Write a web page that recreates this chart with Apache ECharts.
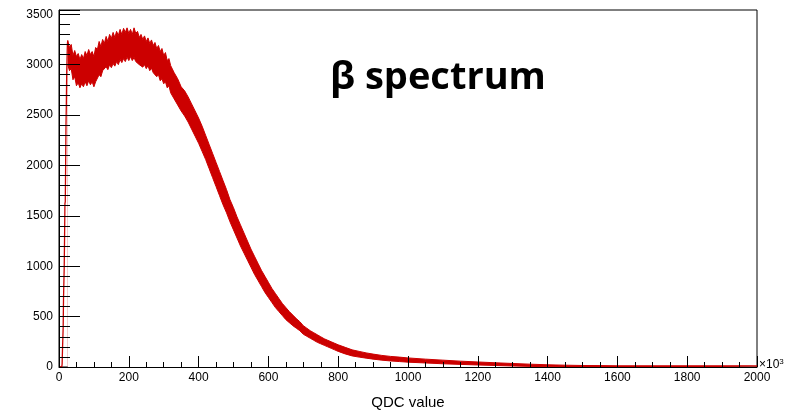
<!DOCTYPE html>
<html>
<head>
<meta charset="utf-8">
<script src="https://cdn.jsdelivr.net/npm/echarts@6/dist/echarts.min.js"></script>
<style>
  html, body { margin: 0; padding: 0; background: #fff; }
  #chart { width: 790px; height: 415px; }
</style>
</head>
<body>
<div id="chart"></div>
<script>
// ---- data (QDC value in units of 10^3, counts) ----
const riseQdc    = [0, 8, 9, 10, 11, 12, 13, 14, 15, 16, 17, 18, 19, 20, 21, 22, 23, 24, 25];
const riseCounts = [0, 0, 30, 170, 180, 400, 690, 700, 1000, 1300, 1620, 1640, 2000, 2400, 2600, 2900, 3050, 3200, 3240];

const bandQdc = [
  25, 30, 35, 40, 45, 50, 55, 60, 65, 70, 75, 80, 85, 90, 95, 100,
  105, 110, 115, 120, 125, 130, 135, 140, 145, 150, 155, 160, 165, 170, 175, 180,
  185, 190, 195, 200, 205, 210, 215, 220, 225, 230, 235, 240, 245, 250, 255, 260,
  265, 270, 275, 280, 285, 290, 295, 300, 305, 310, 315, 320, 325, 330, 335, 340,
  345, 350, 360, 370, 380, 390, 400, 410, 420, 430, 440, 450, 460, 470, 480, 490,
  500, 510, 520, 530, 540, 550, 560, 570, 580, 590, 600, 610, 620, 630, 640, 650,
  660, 670, 680, 690, 700, 710, 720, 730, 740, 750, 760, 770, 780, 790, 800, 820,
  840, 860, 880, 900, 925, 950, 975, 1000, 1050, 1100, 1150, 1200, 1250, 1300, 1350, 1400,
  1450, 1500, 1550, 1600, 1700, 1800, 1900, 2000
];
const bandUpper = [
  3240, 3170, 3200, 3090, 3140, 3080, 3110, 3050, 3100, 3060, 3130, 3090, 3150, 3100, 3130, 3080,
  3170, 3150, 3230, 3180, 3250, 3210, 3280, 3230, 3300, 3260, 3320, 3270, 3330, 3290, 3350, 3300,
  3360, 3320, 3365, 3310, 3350, 3300, 3365, 3310, 3330, 3270, 3300, 3250, 3285, 3230, 3265, 3210,
  3245, 3190, 3220, 3160, 3190, 3130, 3160, 3090, 3120, 3040, 3060, 2990, 3000, 2920, 2935, 2860,
  2860, 2780, 2740, 2680, 2610, 2540, 2470, 2390, 2300, 2210, 2120, 2030, 1940, 1850, 1760, 1660,
  1580, 1490, 1410, 1330, 1250, 1170, 1100, 1030, 960, 900, 840, 780, 730, 680, 630, 590,
  550, 515, 480, 450, 410, 385, 360, 340, 320, 300, 280, 265, 250, 235, 220, 195,
  170, 155, 140, 128, 115, 105, 98, 90, 78, 68, 58, 50, 42, 35, 28, 22,
  18, 15, 14, 12, 12, 12, 12, 12
];
const bandLower = [
  3000, 2940, 2960, 2850, 2880, 2790, 2820, 2770, 2810, 2780, 2830, 2790, 2840, 2800, 2830, 2780,
  2830, 2840, 2900, 2880, 2940, 2930, 2980, 2950, 3000, 2970, 3010, 2985, 3030, 3000, 3050, 3020,
  3060, 3030, 3075, 3040, 3080, 3040, 3070, 3030, 3045, 3000, 3015, 2975, 3000, 2960, 2990, 2940,
  2965, 2920, 2935, 2880, 2900, 2840, 2860, 2810, 2830, 2770, 2790, 2720, 2730, 2660, 2670, 2600,
  2600, 2540, 2490, 2430, 2360, 2290, 2220, 2140, 2060, 1970, 1880, 1790, 1700, 1610, 1530, 1440,
  1360, 1280, 1200, 1130, 1060, 990, 920, 860, 800, 740, 690, 640, 590, 550, 510, 470,
  440, 410, 385, 360, 325, 305, 285, 265, 245, 230, 215, 200, 185, 170, 155, 130,
  110, 98, 88, 78, 68, 60, 54, 48, 40, 32, 26, 20, 15, 10, 6, 3,
  1, 0, 0, 0, 0, 0, 0, 0
];

const xTicks = [0, 200, 400, 600, 800, 1000, 1200, 1400, 1600, 1800, 2000];
const yTicks = [0, 500, 1000, 1500, 2000, 2500, 3000, 3500];

const RED = '#cc0000';
const zip = (a, b) => a.map((v, i) => [v, b[i]]);
const plain = v => String(v);

const chart = echarts.init(document.getElementById('chart'), null, { renderer: 'canvas' });
chart.setOption({
  animation: false,
  backgroundColor: '#fff',
  grid: {
    left: 59, right: 33, top: 10, bottom: 44,
    show: true, borderColor: '#000', borderWidth: 1, backgroundColor: 'transparent'
  },
  xAxis: {
    type: 'value', min: xTicks[0], max: xTicks[xTicks.length - 1], interval: 200,
    z: 5,
    axisLine: { show: true, onZero: false, lineStyle: { color: '#000', width: 1 } },
    axisTick: { show: true, inside: true, length: 11, lineStyle: { color: '#000', width: 1 } },
    minorTick: { show: true, splitNumber: 4, length: 5, lineStyle: { color: '#000', width: 1 } },
    splitLine: { show: false },
    axisLabel: { color: '#000', fontFamily: 'Liberation Sans', fontSize: 12, margin: 5, formatter: plain },
    name: 'QDC value', nameLocation: 'middle', nameGap: 28,
    nameTextStyle: { color: '#000', fontFamily: 'Liberation Sans', fontSize: 15 }
  },
  yAxis: {
    type: 'value', min: yTicks[0], max: 3542, interval: 500,
    z: 5,
    axisLine: { show: true, onZero: false, lineStyle: { color: '#000', width: 1 } },
    axisTick: { show: true, inside: true, length: 21, lineStyle: { color: '#000', width: 1 } },
    minorTick: { show: true, splitNumber: 5, length: 11, lineStyle: { color: '#000', width: 1 } },
    splitLine: { show: false },
    axisLabel: { color: '#000', fontFamily: 'Liberation Sans', fontSize: 12, margin: 6, showMaxLabel: false, formatter: plain }
  },
  graphic: [
    {
      type: 'text', left: 759, top: 358,
      style: {
        text: '×10{s|3}', fill: '#000', font: '12px "Liberation Sans"',
        rich: { s: { fontSize: 8, fontFamily: 'Liberation Sans', verticalAlign: 'top', padding: [0, 0, 6, 0] } }
      }
    },
    {
      type: 'text', left: 330, top: 59,
      style: { text: 'β spectrum', fill: '#000', font: 'bold 38px "Open Sans"' }
    }
  ],
  series: [
    {
      type: 'line', data: zip(bandQdc, bandUpper), symbol: 'none', z: 2,
      lineStyle: { color: RED, width: 1 },
      areaStyle: { color: RED, opacity: 1 }
    },
    {
      type: 'line', data: zip(bandQdc, bandLower), symbol: 'none', z: 3,
      lineStyle: { color: RED, width: 1 },
      areaStyle: { color: '#fff', opacity: 1 }
    },
    {
      type: 'line', data: zip(riseQdc, riseCounts), symbol: 'none', z: 4,
      lineStyle: { color: RED, width: 1.3 }
    }
  ]
});
</script>
</body>
</html>
